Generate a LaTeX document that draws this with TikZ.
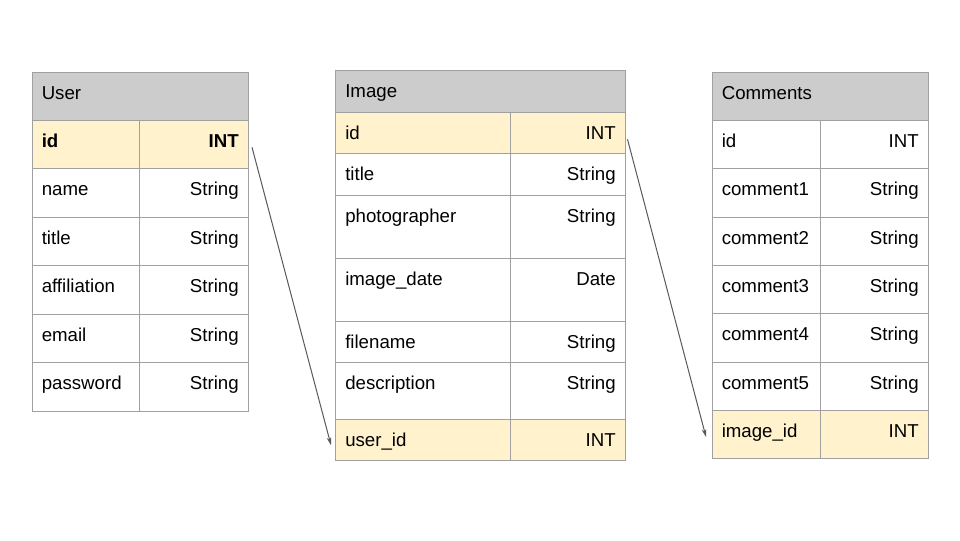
\documentclass[tikz,border=0pt]{standalone}
\usepackage{fontspec}
\setmainfont{Liberation Sans}
\usetikzlibrary{arrows.meta,calc}
\definecolor{hdrgray}{HTML}{CCCCCC}
\definecolor{keyfill}{HTML}{FFF2CC}
\definecolor{rowfill}{HTML}{FFFFFF}
\definecolor{bordergray}{HTML}{A0A0A0}
\definecolor{arrowgray}{HTML}{595959}
\tikzset{
  cellbox/.style={draw=bordergray,line width=0.75pt,rectangle,anchor=north west,inner sep=0pt,outer sep=0pt},
  lefttxt/.style={anchor=base west,inner sep=0pt},
  righttxt/.style={anchor=base east,inner sep=0pt},
  fklink/.style={draw=arrowgray,line width=0.75pt,-{Stealth[length=6pt,width=3.5pt]}}
}
% #1 prefix, #2 x0, #3 xd, #4 x1, #5 top, #6 height, #7 fill, #8 name, #9 type
\newcommand\mkrow[9]{%
  \node[cellbox,fill=#7,minimum width={(#3-#2)*0.75pt},minimum height={(#6)*0.75pt}] (#1n) at (#2,#5) {};
  \node[cellbox,fill=#7,minimum width={(#4-#3)*0.75pt},minimum height={(#6)*0.75pt}] (#1t) at (#3,#5) {};
  \node[lefttxt] (#1nl) at ($(#1n.north west)+(9.5,27)$) {#8};
  \node[righttxt] (#1tl) at ($(#1t.north east)+(-9.5,27)$) {#9};
}
% #1 name, #2 x0, #3 x1, #4 top, #5 height, #6 title
\newcommand\mkhead[6]{%
  \node[cellbox,fill=hdrgray,minimum width={(#3-#2)*0.75pt},minimum height={(#5)*0.75pt}] (#1) at (#2,#4) {};
  \node[lefttxt] (#1l) at ($(#1.north west)+(9.5,27)$) {#6};
}
\begin{document}
\begin{tikzpicture}[x=0.75pt,y=-0.75pt,font=\fontsize{14}{16}\selectfont]
\useasboundingbox[fill=white] (0,0) rectangle (960,540);

% ---------- User ----------
\mkhead{uh}{32}{248.5}{72}{48}{User}
\mkrow{ua}{32}{139}{248.5}{120}{48.5}{keyfill}{\textbf{id}}{\textbf{INT}}
\mkrow{ub}{32}{139}{248.5}{168.5}{48.5}{rowfill}{name}{String}
\mkrow{uc}{32}{139}{248.5}{217}{48.5}{rowfill}{title}{String}
\mkrow{ud}{32}{139}{248.5}{265.5}{48.5}{rowfill}{affiliation}{String}
\mkrow{ue}{32}{139}{248.5}{314}{48.5}{rowfill}{email}{String}
\mkrow{uf}{32}{139}{248.5}{362.5}{48.5}{rowfill}{password}{String}

% ---------- Image ----------
\mkhead{ih}{335.5}{625.5}{70}{42.3}{Image}
\mkrow{ia}{335.5}{510.5}{625.5}{112.3}{41}{keyfill}{id}{INT}
\mkrow{ib}{335.5}{510.5}{625.5}{153.3}{42}{rowfill}{title}{String}
\mkrow{ic}{335.5}{510.5}{625.5}{195.3}{63}{rowfill}{photographer}{String}
\mkrow{id}{335.5}{510.5}{625.5}{258.3}{63.4}{rowfill}{image\_date}{Date}
\mkrow{ie}{335.5}{510.5}{625.5}{321.7}{40.3}{rowfill}{filename}{String}
\mkrow{if}{335.5}{510.5}{625.5}{362}{57.3}{rowfill}{description}{String}
\mkrow{ig}{335.5}{510.5}{625.5}{419.3}{40.7}{keyfill}{user\_id}{INT}

% ---------- Comments ----------
\mkhead{ch}{712}{928.5}{72}{48.5}{Comments}
\mkrow{ca}{712}{820.5}{928.5}{120.5}{48.3}{rowfill}{id}{INT}
\mkrow{cb}{712}{820.5}{928.5}{168.8}{48.3}{rowfill}{comment1}{String}
\mkrow{cc}{712}{820.5}{928.5}{217.1}{48.3}{rowfill}{comment2}{String}
\mkrow{cd}{712}{820.5}{928.5}{265.4}{48.3}{rowfill}{comment3}{String}
\mkrow{ce}{712}{820.5}{928.5}{313.7}{48.3}{rowfill}{comment4}{String}
\mkrow{cf}{712}{820.5}{928.5}{362}{48.3}{rowfill}{comment5}{String}
\mkrow{cg}{712}{820.5}{928.5}{410.3}{48.3}{keyfill}{image\_id}{INT}

% ---------- links ----------
\draw[fklink] ($(uat.east)+(3.5,3)$) -- ($(ign.west)+(-4.5,5.5)$);
\draw[fklink] ($(iat.east)+(2,6.5)$) -- ($(cgn.west)+(-6,2.5)$);
\end{tikzpicture}
\end{document}
